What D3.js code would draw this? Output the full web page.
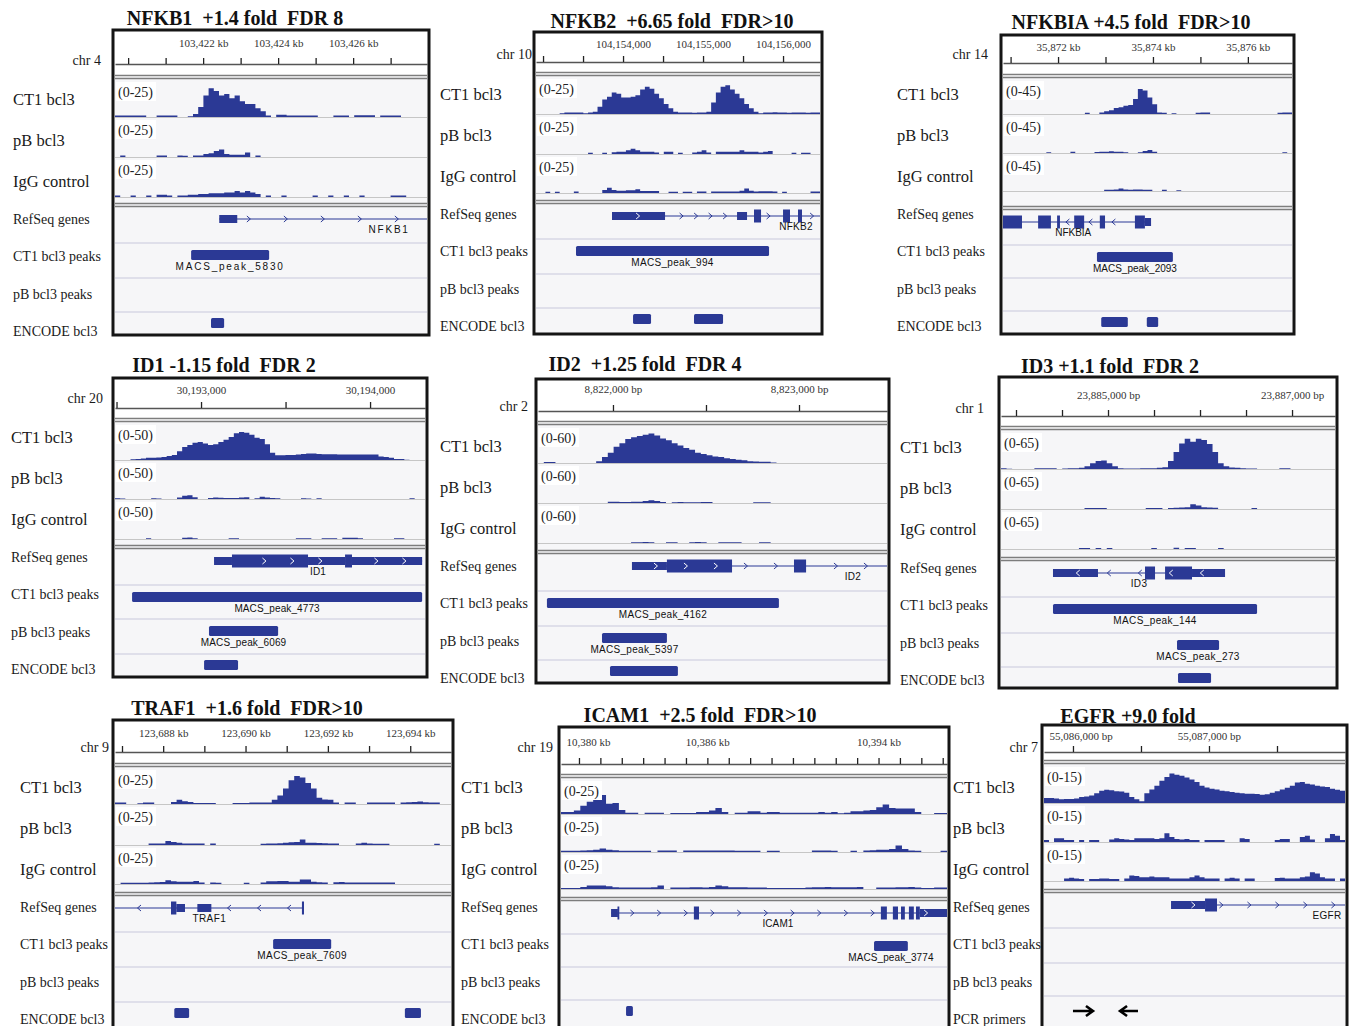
<!DOCTYPE html>
<html>
<head>
<meta charset="utf-8">
<script src="https://cdn.jsdelivr.net/npm/d3@7"></script>
<style>
  body { margin: 0; background: #fff; }
  svg { display: block; }
  .title { font: bold 20px "Liberation Serif", "Times New Roman", serif; fill: #111; white-space: pre; }
  .trackLabel { font: 16.5px "Liberation Serif", "Times New Roman", serif; fill: #1a1a1a; }
  .featLabel { font: 14px "Liberation Serif", "Times New Roman", serif; fill: #1a1a1a; }
  .chrLabel { font: 14px "Liberation Serif", "Times New Roman", serif; fill: #1a1a1a; }
  .tickLabel { font: 11px "Liberation Serif", "Times New Roman", serif; fill: #333; }
  .range { font: 14px "Liberation Serif", "Times New Roman", serif; fill: #222; }
  .feat { font: 10px "Liberation Sans", Arial, sans-serif; fill: #111; }
</style>
</head>
<body>
<svg id="fig" width="1354" height="1026"></svg>
<script>
const BLUE = '#2b3995'

// ---- NFKB1 (chr 4, kb) ----
const nfkb1Ticks = [103420, 103421, 103422, 103423, 103424, 103425, 103426, 103427]
const nfkb1Labels = [103422, 103424, 103426]
const nfkb1Ct1 = [
  1, 1, 1, 1, 1, 1, 0, 0, 1, 1,
  1, 1, 0, 0, 0.5, 2, 7, 15, 20, 18,
  15, 16, 13, 15, 11, 9, 9, 6, 4, 1,
  0, 1.5, 1.5, 1, 1, 1, 1, 1, 1, 0,
  0, 0, 1, 1, 1, 0, 1.2, 1.2, 1.2, 1.2,
  0, 1, 1, 1, 1, 0, 0, 0, 0, 0]
const nfkb1Pb = [
  0, 1, 0, 0, 0, 0, 0, 0, 1, 1,
  0, 0, 1, 0.8, 0, 1, 1, 2, 2.5, 4,
  5, 2, 1.5, 1.5, 1.5, 3, 0, 1, 0, 0,
  0, 0, 0, 0, 0, 0, 0, 0, 0, 0,
  0, 0, 0, 0, 0, 0, 0, 0, 0, 0,
  0, 0, 0, 0, 0, 0, 0, 0, 0, 0]
const nfkb1Igg = [
  1, 0, 0, 1, 0, 0, 1, 0, 1.5, 1.5,
  1, 0, 1, 1, 1.5, 1.5, 2, 2, 2.5, 2.5,
  2.5, 3, 3, 4, 3, 4, 3, 2, 0, 1,
  0, 0, 1, 0, 0, 0, 0, 0, 1, 0,
  0, 1, 0, 0, 1, 0, 0, 1, 0, 0,
  0, 0, 0, 1, 1, 1, 0, 0, 0, 0]
const nfkb1Gene = { name: 'NFKB1', strand: '+', start: 103422.43, end: 103427.97, labelAt: 103426.96 }
const nfkb1Exons = [[103422.43, 103422.91, 'utr']]
const nfkb1Ct1Peaks = [[103421.68, 103423.76, 'MACS_peak_5830']]
const nfkb1Encode = [[103422.21, 103422.56]]

// ---- NFKB2 (chr 10, bp) ----
const nfkb2Ticks = [104153000, 104153500, 104154000, 104154500, 104155000, 104155500, 104156000]
const nfkb2Labels = [104154000, 104155000, 104156000]
const nfkb2Ct1 = [
  0, 0, 0, 0, 0, 0.5, 1, 1, 1, 1,
  0.5, 1, 1.5, 5, 10, 12, 15, 14, 11.5, 11.5,
  12, 13, 17, 19, 17.5, 14, 11, 7, 4, 1.5,
  1, 1, 1, 0.8, 1, 1, 1.5, 8, 15, 19,
  20, 17, 14, 11, 7, 4, 1.5, 0.5, 1, 1,
  1.2, 1, 1, 0.8, 1, 1, 1, 0.8, 1, 1]
const nfkb2Pb = [
  0, 0, 0, 0, 0, 0, 0, 0, 0, 0,
  0, 0.8, 0, 0, 0.8, 0, 1.2, 1.5, 1.5, 2.5,
  3.5, 2.5, 1.5, 1.5, 1.5, 1, 0, 1.5, 1.5, 0,
  0.8, 0, 0, 1, 1.5, 2.5, 1, 0, 1.5, 1.5,
  1.5, 1.5, 1.5, 2.5, 1.5, 1.5, 1.5, 1, 1.5, 2,
  0, 0, 0, 0, 0.8, 0, 0.8, 0.8, 0, 0]
const nfkb2Igg = [
  0, 0, 0.8, 0, 0.8, 0, 0, 0, 1, 0,
  0, 0, 0, 0, 2, 3.5, 2, 1.5, 1.5, 1.8,
  1.8, 2.5, 1.3, 1.3, 1.3, 1.3, 0, 0, 0.8, 0.8,
  0, 0.8, 0.8, 0, 1, 1, 0, 1, 1, 1,
  1, 1, 1, 1.5, 3, 1.5, 1, 1.2, 1.2, 1.2,
  1, 0, 0.8, 0, 0, 0, 0, 0, 1, 1]
const nfkb2Gene = { name: 'NFKB2', strand: '+', start: 104153862, end: 104156462, labelAt: 104156162 }
const nfkb2Exons = [[104153862, 104154525, 'utr'], [104155425, 104155550, 'utr'], [104155637, 104155725, 'cds'],
  [104156000, 104156087, 'cds'], [104156187, 104156237, 'cds']]
const nfkb2Ct1Peaks = [[104153412, 104155825, 'MACS_peak_994']]
const nfkb2Encode = [[104154125, 104154350], [104154887, 104155250]]

// ---- NFKBIA (chr 14, kb) ----
const nfkbiaTicks = [35871, 35872, 35873, 35874, 35875, 35876]
const nfkbiaLabels = [35872, 35874, 35876]
const nfkbiaCt1 = [
  0, 0, 0, 0, 0, 0, 0, 0, 0, 0,
  0, 0, 0, 0, 0, 0, 0, 1.5, 0, 0,
  2, 3.5, 5, 8, 9, 11, 12, 20, 33, 31,
  22, 13, 2, 1.5, 0, 1, 0, 0, 0, 0,
  1.5, 2, 2, 0, 0, 0, 0, 0, 0, 0,
  0, 0, 0, 0, 0, 0, 0, 1.5, 2, 2]
const nfkbiaPb = [
  0, 0, 0, 0, 0, 0, 0, 0, 0, 1,
  0, 0, 0, 0, 1.5, 0, 0, 0, 0, 1.2,
  1.5, 1.5, 2, 1.5, 1.5, 1, 0, 0, 1, 2.5,
  3.5, 1.5, 0, 0, 0, 0, 0, 0, 0, 0,
  0, 0, 0, 0, 0, 0, 0, 0, 0, 0,
  0, 0, 0, 0, 0, 0, 0, 0, 1, 0]
const nfkbiaIgg = [
  0, 0, 0, 0, 0, 0, 0, 0, 0, 0,
  0, 0, 0, 0, 0, 0, 0, 0, 0, 0,
  0, 1.5, 1.5, 2, 3, 2, 1.5, 2, 2, 1.5,
  1.5, 0, 0, 1.5, 0, 0, 1, 0, 0, 0,
  0, 0, 0, 0, 0, 0, 0, 0, 0, 0,
  0, 0, 0, 0, 0, 0, 0, 0, 0, 0]
const nfkbiaGene = { name: 'NFKBIA', strand: '-', start: 35870.84, end: 35873.96, labelAt: 35872.32 }
const nfkbiaExons = [[35870.84, 35871.24, 'cds'], [35871.58, 35871.85, 'cds'], [35871.98, 35872.04, 'cds'],
  [35872.34, 35872.55, 'cds'], [35872.88, 35872.99, 'cds'], [35873.62, 35873.83, 'cds'], [35873.83, 35873.96, 'utr']]
const nfkbiaCt1Peaks = [[35872.82, 35874.42, 'MACS_peak_2093']]
const nfkbiaEncode = [[35872.91, 35873.47], [35873.87, 35874.11]]

// ---- ID1 (chr 20, bp) ----
const id1Ticks = [30192500, 30193000, 30193500, 30194000]
const id1Labels = [30193000, 30194000]
const id1Ct1 = [
  0, 0, 0, 1, 1.5, 2, 3, 3, 3.5, 4,
  5.5, 7, 12, 18, 21, 24, 25, 23, 21, 22,
  25, 28, 32, 37, 39, 38, 35, 31, 29, 22,
  10, 6.5, 6.5, 7, 7, 7.5, 8.5, 9, 9, 8.5,
  8, 8, 8, 7.5, 7.5, 7.5, 7.5, 7.5, 7.5, 7.5,
  7.5, 5, 4, 3, 1.5, 1.3, 0.5, 0, 0, 0]
const id1Pb = [
  1, 0.8, 0, 0, 0, 0, 0, 1, 0.8, 0,
  0, 0, 2, 4.5, 5, 2.5, 0, 0, 1.5, 2,
  1.8, 1.5, 1.5, 1.5, 2, 2.5, 0, 1, 3, 2,
  1.2, 1, 0, 0, 0, 0, 1, 0.8, 0, 1,
  0, 0, 0, 0, 0, 0, 0, 0, 0, 0,
  0, 0, 0, 0, 0, 0, 0, 1, 0, 0]
const id1Igg = [
  0, 0, 0, 0, 0, 0, 1, 0, 0, 0,
  0, 0, 0, 1.5, 2, 1, 0, 0, 0, 0,
  0, 0, 1, 1, 0, 0, 0, 0, 0, 0,
  0, 0, 0, 0, 0, 1, 1, 1, 0, 0,
  1, 1, 1, 0, 1.5, 1.5, 1.5, 1, 0, 0,
  0, 0, 0, 0, 1, 1, 0, 0, 0, 0]
const id1Gene = { name: 'ID1', strand: '+', start: 30193077, end: 30194308, labelAt: 30193692 }
const id1Exons = [[30193077, 30193183, 'utr'], [30193183, 30193633, 'cds'], [30193633, 30193852, 'utr'],
  [30193852, 30193893, 'cds'], [30193893, 30194308, 'utr']]
const id1Ct1Peaks = [[30192592, 30194308, 'MACS_peak_4773']]
const id1PbPeaks = [[30193047, 30193456, 'MACS_peak_6069']]
const id1Encode = [[30193018, 30193219]]

// ---- ID2 (chr 2, bp) ----
const id2Ticks = [8822000, 8822500, 8823000]
const id2Labels = [8822000, 8823000]
const id2Ct1 = [
  0, 1.5, 1.5, 0, 0, 0, 0, 0, 0, 0,
  3, 10, 17, 27, 33, 40, 43, 45, 47, 49,
  46, 41, 38, 33, 29, 25, 22, 17, 15, 13,
  11, 10, 8, 6.5, 5.5, 4.5, 3, 2.5, 2, 2,
  1, 0, 0, 0, 0, 0, 0, 0, 0, 0,
  0, 0, 0, 0, 0, 0, 0, 0, 0, 0]
const id2Pb = [
  0, 0, 0, 0, 0, 0, 0, 0, 0, 0,
  0, 0, 2, 1.8, 1.5, 1.5, 2, 2, 3, 4.5,
  3, 1.5, 0, 1, 1.5, 1, 1, 1.2, 1.5, 1.5,
  0, 0, 0, 0, 0, 0, 0, 1, 1, 1,
  0, 0, 0, 0, 0, 0, 0, 0, 0, 0,
  0, 0, 0, 0, 0, 0, 0, 0, 0, 0]
const id2Igg = [
  0, 0, 0, 0, 0, 0, 0, 0, 0, 0,
  0, 0, 0, 0, 0, 0, 1, 1, 1.5, 1,
  0, 0, 1, 1, 0, 0, 1.2, 1.5, 1.2, 0,
  0, 1, 1, 1.2, 1.2, 0, 0, 0, 1, 1,
  0, 0, 0, 0, 0, 0, 0, 0, 0, 0,
  0, 0, 0, 0, 0, 0, 0, 0, 0, 0]
const id2Gene = { name: 'ID2', strand: '+', start: 8822102, end: 8823473, labelAt: 8823290 }
const id2Exons = [[8822102, 8822290, 'utr'], [8822290, 8822640, 'cds'], [8822973, 8823038, 'cds']]
const id2Ct1Peaks = [[8821645, 8822892, 'MACS_peak_4162']]
const id2PbPeaks = [[8821941, 8822290, 'MACS_peak_5397']]
const id2Encode = [[8821984, 8822349]]

// ---- ID3 (chr 1, bp) ----
const id3Ticks = [23884000, 23884500, 23885000, 23885500, 23886000, 23886500, 23887000]
const id3Labels = [23885000, 23887000]
const id3Ct1 = [
  1.5, 0.5, 0, 0, 0, 0, 1.5, 1.5, 1.5, 1.5,
  0, 1, 1.5, 1.5, 2, 5, 10, 14, 15, 10,
  5, 1.5, 1, 1, 1, 1.5, 1.5, 1.5, 2, 3,
  14, 30, 45, 53, 48, 53, 51, 44, 30, 10,
  5, 2.5, 2, 1.5, 1, 1, 0, 0, 0, 0,
  1.5, 1.5, 0, 0, 0, 0, 0, 0, 0, 0]
const id3Pb = [
  0, 0, 0, 0, 0, 0, 0, 0, 0, 0,
  0, 0, 0, 0, 0, 1.5, 1.5, 1.8, 1.8, 0,
  0, 0, 0, 0, 0, 0, 1.5, 1.5, 1.5, 0,
  1.5, 2, 2.5, 3, 8, 6, 3, 2.5, 2, 0,
  0, 0, 0, 0, 0, 1.5, 0, 0, 0, 0,
  0, 0, 0, 0, 0, 0, 0, 0, 0, 0]
const id3Igg = [
  0, 0, 0, 0, 0, 0, 0, 0, 0, 0,
  0, 0, 0, 0, 1.5, 1.5, 0, 1.5, 0, 1.5,
  0, 0, 0, 0, 0, 0, 0, 1.5, 0, 0,
  0, 2, 0, 1.5, 1.5, 0, 0, 0, 0, 1.5,
  0, 0, 0, 0, 0, 0, 0, 0, 0, 0,
  0, 0, 0, 0, 0, 0, 0, 0, 0, 0]
const id3Gene = { name: 'ID3', strand: '-', start: 23884402, end: 23886272, labelAt: 23885337 }
const id3Exons = [[23884402, 23884891, 'utr'], [23885402, 23885511, 'cds'], [23885620, 23885913, 'cds'],
  [23885913, 23886272, 'utr']]
const id3Ct1Peaks = [[23884402, 23886620, 'MACS_peak_144']]
const id3PbPeaks = [[23885750, 23886207, 'MACS_peak_273']]
const id3Encode = [[23885761, 23886120]]

// ---- TRAF1 (chr 9, kb) ----
const traf1Ticks = [123687, 123688, 123689, 123690, 123691, 123692, 123693, 123694]
const traf1Labels = [123688, 123690, 123692, 123694]
const traf1Ct1 = [
  1, 1, 0, 0, 0.5, 1, 1, 0, 0, 0,
  1.5, 3, 2, 1.5, 0.8, 0.8, 0.8, 0.8, 0, 0,
  0, 0.8, 0.8, 0.8, 1, 1, 1, 1, 3, 6,
  11, 17, 20, 19, 15, 11, 4.5, 3.3, 3, 1,
  0, 1, 1, 0, 0, 1, 1, 1, 1, 1,
  0, 1, 1.2, 1.5, 1.8, 1.2, 1, 1, 0, 0]
const traf1Pb = [
  0, 0, 0, 0, 0, 0, 1, 1, 1, 2.5,
  2, 1.5, 1, 1, 1, 1, 0, 1, 0, 0,
  0, 0, 0, 0, 0, 0, 0.8, 1, 1, 1.2,
  1.5, 1.8, 2, 3.5, 1.5, 1.5, 1.3, 1.2, 1, 1,
  0, 0, 0, 1, 1.5, 1, 0.8, 0.8, 0.8, 0,
  0, 0, 0, 0, 0, 0, 0, 0.8, 0, 0]
const traf1Igg = [
  0, 0.8, 0.8, 0.8, 0.8, 0.8, 1, 1.2, 1.3, 2.5,
  1.8, 1.5, 1.5, 1.5, 2, 1, 0, 1, 0.8, 0,
  0, 0, 0, 0.8, 0, 0, 1, 1.8, 1.8, 2,
  2, 1.5, 1.5, 3, 3, 1.5, 1.2, 1, 0, 1.2,
  1.3, 1, 1, 1, 1, 1, 1, 1, 1, 1,
  0, 0, 0, 0, 0, 0, 0, 0, 0, 0]
const traf1Gene = { name: 'TRAF1', strand: '-', start: 123686.83, end: 123691.40, labelAt: 123689.12 }
const traf1Exons = [[123688.19, 123688.32, 'cds'], [123688.32, 123688.53, 'utr'], [123688.83, 123689.17, 'utr'],
  [123691.37, 123691.42, 'cds']]
const traf1Ct1Peaks = [[123690.67, 123692.08, 'MACS_peak_7609']]
const traf1Encode = [[123688.27, 123688.63], [123693.87, 123694.26]]

// ---- ICAM1 (chr 19, kb) ----
const icam1Ticks = [10380, 10381, 10382, 10383, 10384, 10385, 10386, 10387, 10388, 10389,
  10390, 10391, 10392, 10393, 10394, 10395, 10396, 10397]
const icam1Labels = [10380, 10386, 10394]
const icam1Ct1 = [
  1.5, 1.5, 2.5, 6, 9, 12, 14, 7.5, 8, 3,
  1, 1, 0, 1, 1, 1, 0, 0.8, 0.8, 0.8,
  0.8, 1.5, 1.5, 2.5, 4.5, 1.5, 0, 1, 1, 2,
  2, 1, 1.5, 1.5, 1, 1, 1, 1, 1, 1,
  1.5, 1, 1.5, 0.5, 1, 2, 2, 2.5, 3, 5,
  7, 4.5, 4, 4, 4, 1.5, 0, 0, 0.8, 0.8]
const icam1Pb = [
  0.8, 0.8, 0.8, 1, 1.2, 1.5, 2.5, 1.5, 1.2, 0.8,
  0.8, 0.8, 0.8, 0.8, 0, 1, 1, 1, 0, 1,
  1, 1, 1, 1, 1, 1, 1, 0.8, 0.8, 0.8,
  0.8, 0, 0.8, 0.8, 0, 0, 0, 0, 0, 1,
  1, 1, 0.8, 0, 0, 0.8, 0, 1, 1.2, 1.5,
  1.5, 2, 4.5, 2, 1, 0.8, 0, 0, 0, 0.8]
const icam1Igg = [
  0.8, 0.8, 0.8, 1.5, 2.5, 2.5, 2.5, 2, 1.2, 1,
  1, 1, 1, 1, 1.2, 2.5, 0, 1, 1, 1,
  1.3, 1.3, 1, 1.5, 2.5, 2, 1.2, 1.2, 1.2, 1,
  1, 1, 0.8, 0.8, 0.8, 0.8, 0.8, 0.8, 1, 1.2,
  1.2, 1.5, 1.2, 1.2, 1.2, 1.2, 1.5, 0, 0, 1,
  1, 1, 1.3, 1.3, 1.5, 1, 0.8, 0.8, 1, 1]
const icam1Gene = { name: 'ICAM1', strand: '+', start: 10381.50, end: 10397.20, labelAt: 10389.30 }
const icam1Exons = [[10381.50, 10381.82, 'utr'], [10381.80, 10381.88, 'cds'], [10385.37, 10385.61, 'cds'],
  [10394.11, 10394.39, 'cds'], [10394.67, 10394.91, 'cds'], [10395.05, 10395.23, 'cds'],
  [10395.42, 10395.65, 'cds'], [10395.75, 10395.93, 'cds'], [10395.93, 10397.20, 'utr']]
const icam1Ct1Peaks = [[10393.79, 10395.37, 'MACS_peak_3774']]
const icam1Encode = [[10382.20, 10382.52]]

// ---- EGFR (chr 7, bp) ----
const egfrTicks = [55086000, 55086500, 55087000, 55087500]
const egfrLabels = [55086000, 55087000]
const egfrCt1 = [
  2, 2, 1.8, 1.5, 1.6, 1.6, 1.8, 2.4, 2.6, 3,
  4, 5, 5.4, 5.2, 4.8, 4.7, 4.2, 2.4, 1.5, 0.7,
  4, 5.5, 7, 9, 10.5, 12, 11.5, 11, 10.3, 9.5,
  8.5, 7, 6.3, 5.8, 5.5, 5, 4.8, 4.5, 4.2, 4,
  3.8, 3.7, 3.6, 3.3, 3.5, 4.2, 4.8, 5.5, 6.2, 7,
  8.3, 8.5, 7.8, 7.5, 7, 6.7, 6.5, 5.8, 5.4, 5]
const egfrPb = [
  0.8, 0, 1.5, 1.5, 0.8, 0.8, 0, 0.8, 0, 0.8,
  0.8, 0, 0, 1, 1.5, 1.2, 1, 0.8, 1.5, 1.5,
  1.5, 1.5, 1.2, 1.5, 3.5, 2, 1.2, 1, 1.2, 0.8,
  0.8, 0, 0.8, 0.8, 0.8, 0.8, 0, 0, 0, 1.5,
  1.2, 0, 0, 0, 0, 0, 0.8, 1.2, 1.2, 0,
  0, 2, 2.5, 1, 0, 0, 1.5, 3.2, 2.5, 0.8]
const egfrIgg = [
  0, 0, 0, 0, 1, 1.3, 1, 0.8, 0, 0.8,
  0.8, 1, 1, 0.8, 0.8, 0, 1, 2.2, 2, 1.5,
  1.5, 1.8, 1.5, 1.5, 1.5, 1, 1, 1, 1, 1.5,
  2.2, 1.5, 1, 1, 1, 0, 1, 1.3, 1, 0,
  1, 1, 0, 0, 0, 0, 1.2, 1.3, 1, 1,
  1, 1.5, 1.8, 3.5, 3, 1.5, 1, 1, 0, 1]
const egfrGene = { name: 'EGFR', strand: '+', start: 55086721, end: 55088000, labelAt: 55087868 }
const egfrExons = [[55086721, 55086971, 'utr'], [55086971, 55087059, 'cds']]
const egfrPrimers = [[55086000, 55086147, '+'], [55086346, 55086478, '-']]

// panel layout (pixel geometry), built from the arrays above
const panels = [
  { title: 'NFKB1  +1.4 fold  FDR 8', titleX: 235, titleY: 25, chr: 'chr 4', chrX: 101, chrY: 60,
    labelX: 13, covLabelY: 99, featLabelY: 219, frame: [113, 30, 429, 335],
    rulerY: 64, tickLabelY: 47, dbl1: 77, base: [117, 157, 197], dbl2: 205, seps: [243, 278, 312],
    domain: [103419.65, 103427.97], ticks: nfkb1Ticks, tickLabels: nfkb1Labels, unit: ' kb', max: 25,
    cov: [nfkb1Ct1, nfkb1Pb, nfkb1Igg], gene: nfkb1Gene, exons: nfkb1Exons,
    peaks: [nfkb1Ct1Peaks, [], nfkb1Encode], chev: 37, spacing: 1.8 },
  { title: 'NFKB2  +6.65 fold  FDR>10', titleX: 672, titleY: 28, chr: 'chr 10', chrX: 532, chrY: 54,
    labelX: 440, covLabelY: 94, featLabelY: 214, frame: [534, 32, 822, 334],
    rulerY: 62, tickLabelY: 48, dbl1: 74, base: [114, 154, 193], dbl2: 202, seps: [239, 274, 308],
    domain: [104152912, 104156462], ticks: nfkb2Ticks, tickLabels: nfkb2Labels, unit: '', max: 25,
    cov: [nfkb2Ct1, nfkb2Pb, nfkb2Igg], gene: nfkb2Gene, exons: nfkb2Exons,
    peaks: [nfkb2Ct1Peaks, [], nfkb2Encode], chev: 14.5, spacing: 0.3 },
  { title: 'NFKBIA +4.5 fold  FDR>10', titleX: 1131, titleY: 29, chr: 'chr 14', chrX: 988, chrY: 54,
    labelX: 897, covLabelY: 94, featLabelY: 214, frame: [1001, 35, 1294, 334],
    rulerY: 63, tickLabelY: 51, dbl1: 76, base: [114, 153, 191], dbl2: 208, seps: [245, 278, 311],
    domain: [35870.84, 35876.93], ticks: nfkbiaTicks, tickLabels: nfkbiaLabels, unit: ' kb', max: 45,
    cov: [nfkbiaCt1, nfkbiaPb, nfkbiaIgg], gene: nfkbiaGene, exons: nfkbiaExons,
    peaks: [nfkbiaCt1Peaks, [], nfkbiaEncode], chev: 23, spacing: 0 },
  { title: 'ID1 -1.15 fold  FDR 2', titleX: 224, titleY: 372, chr: 'chr 20', chrX: 103, chrY: 398,
    labelX: 11, covLabelY: 437, featLabelY: 557, frame: [113, 378, 427, 677],
    rulerY: 408, tickLabelY: 394, dbl1: 420, base: [460, 499, 539], dbl2: 547, seps: [585, 619, 654],
    domain: [30192491, 30194325], ticks: id1Ticks, tickLabels: id1Labels, unit: '', max: 50,
    cov: [id1Ct1, id1Pb, id1Igg], gene: id1Gene, exons: id1Exons,
    peaks: [id1Ct1Peaks, id1PbPeaks, id1Encode], chev: 28, spacing: 0.1 },
  { title: 'ID2  +1.25 fold  FDR 4', titleX: 645, titleY: 371, chr: 'chr 2', chrX: 528, chrY: 406,
    labelX: 440, covLabelY: 446, featLabelY: 566, frame: [536, 379, 889, 683],
    rulerY: 411, tickLabelY: 393, dbl1: 423, base: [463, 503, 543], dbl2: 552, seps: [591, 626, 660],
    domain: [8821597, 8823473], ticks: id2Ticks, tickLabels: id2Labels, unit: ' bp', max: 60,
    cov: [id2Ct1, id2Pb, id2Igg], gene: id2Gene, exons: id2Exons,
    peaks: [id2Ct1Peaks, id2PbPeaks, id2Encode], chev: 30, spacing: 0.3 },
  { title: 'ID3 +1.1 fold  FDR 2', titleX: 1110, titleY: 373, chr: 'chr 1', chrX: 984, chrY: 408,
    labelX: 900, covLabelY: 447, featLabelY: 568, frame: [999, 377, 1337, 688],
    rulerY: 416, tickLabelY: 399, dbl1: 428, base: [469, 509, 549], dbl2: 559, seps: [597, 633, 667],
    domain: [23883837, 23887467], ticks: id3Ticks, tickLabels: id3Labels, unit: ' bp', max: 65,
    cov: [id3Ct1, id3Pb, id3Igg], gene: id3Gene, exons: id3Exons,
    peaks: [id3Ct1Peaks, id3PbPeaks, id3Encode], chev: 31, spacing: 0.4 },
  { title: 'TRAF1  +1.6 fold  FDR>10', titleX: 247, titleY: 715, chr: 'chr 9', chrX: 109, chrY: 747,
    labelX: 20, covLabelY: 787, featLabelY: 907, frame: [113, 720, 453, 1040],
    rulerY: 752, tickLabelY: 737, dbl1: 765, base: [804, 845, 884], dbl2: 894, seps: [932, 967, 1002],
    domain: [123686.83, 123694.99], ticks: traf1Ticks, tickLabels: traf1Labels, unit: ' kb', max: 25,
    cov: [traf1Ct1, traf1Pb, traf1Igg], gene: traf1Gene, exons: traf1Exons,
    peaks: [traf1Ct1Peaks, [], traf1Encode], chev: 30, spacing: 0.4 },
  { title: 'ICAM1  +2.5 fold  FDR>10', titleX: 700, titleY: 722, chr: 'chr 19', chrX: 553, chrY: 747,
    labelX: 461, covLabelY: 787, featLabelY: 907, frame: [559, 727, 949, 1040],
    rulerY: 764, tickLabelY: 746, dbl1: 776, base: [814, 852, 889], dbl2: 899, seps: [934, 967, 1000],
    domain: [10379.16, 10397.20], ticks: icam1Ticks, tickLabels: icam1Labels, unit: ' kb', max: 25,
    cov: [icam1Ct1, icam1Pb, icam1Igg], gene: icam1Gene, exons: icam1Exons,
    peaks: [icam1Ct1Peaks, [], icam1Encode], chev: 26.7, spacing: 0.1 },
  { title: 'EGFR +9.0 fold', titleX: 1128, titleY: 723, chr: 'chr 7', chrX: 1038, chrY: 747,
    labelX: 953, covLabelY: 787, featLabelY: 907, frame: [1042, 725, 1347, 1040],
    rulerY: 752, tickLabelY: 740, dbl1: 762, base: [803, 842, 881], dbl2: 891, seps: [928, 963, 996],
    domain: [55085787, 55088000], ticks: egfrTicks, tickLabels: egfrLabels, unit: ' bp', max: 15,
    cov: [egfrCt1, egfrPb, egfrIgg], gene: egfrGene, exons: egfrExons,
    peaks: [[], [], []], primers: egfrPrimers, lastLabel: 'PCR primers', chev: 28, spacing: 0.3 }
]

const covNames = ['CT1 bcl3', 'pB bcl3', 'IgG control']
const featNames = ['RefSeq genes', 'CT1 bcl3 peaks', 'pB bcl3 peaks', 'ENCODE bcl3']

const svg = d3.select('#fig')
const fmt = d3.format(',')

function chevronPath (cx, cy, strand) {
  const d = strand === '+' ? 1 : -1
  return `M${cx - 2 * d},${cy - 3} L${cx + 1.5 * d},${cy} L${cx - 2 * d},${cy + 3}`
}

function drawPanel (p) {
  const [x0, y0, x1, y1] = p.frame
  const ix0 = x0 + 2
  const ix1 = x1 - 2
  const x = d3.scaleLinear().domain(p.domain).range([ix0, ix1])
  const g = svg.append('g')

  // title
  svg.append('text').attr('class', 'title')
    .attr('x', p.titleX).attr('y', p.titleY)
    .attr('text-anchor', 'middle')
    .text(p.title)

  // left-hand track names
  svg.append('text').attr('class', 'chrLabel')
    .attr('x', p.chrX).attr('y', p.chrY).attr('dy', '0.35em')
    .attr('text-anchor', 'end').text(p.chr)
  covNames.forEach((n, i) => {
    svg.append('text').attr('class', 'trackLabel')
      .attr('x', p.labelX).attr('y', p.covLabelY + i * 41).attr('dy', '0.35em').text(n)
  })
  featNames.forEach((n, i) => {
    const t = (i === 3 && p.lastLabel) ? p.lastLabel : n
    svg.append('text').attr('class', 'featLabel')
      .attr('x', p.labelX).attr('y', p.featLabelY + i * 37.5).attr('dy', '0.35em').text(t)
  })

  // backgrounds
  g.append('rect').attr('x', ix0).attr('y', y0).attr('width', ix1 - ix0)
    .attr('height', p.dbl1 - y0).attr('fill', '#fff')
  g.append('rect').attr('x', ix0).attr('y', p.dbl1).attr('width', ix1 - ix0)
    .attr('height', y1 - p.dbl1).attr('fill', '#f6f6f8')

  // ruler
  const ruler = g.append('g').attr('transform', `translate(0,${p.rulerY})`)
    .call(d3.axisTop(x).tickValues(p.ticks).tickSize(6).tickSizeOuter(0).tickFormat(''))
  ruler.select('.domain').attr('stroke', '#555').attr('stroke-width', 1.6)
  ruler.selectAll('.tick line').attr('stroke', '#222').attr('stroke-width', 1.3)

  const lab = g.append('g').attr('transform', `translate(0,${p.tickLabelY})`)
    .call(d3.axisTop(x).tickValues(p.tickLabels).tickSize(0).tickFormat(d => fmt(d) + p.unit))
  lab.select('.domain').remove()
  lab.selectAll('.tick').each(function (d) {
    const t = d3.select(this).select('text').attr('class', 'tickLabel').attr('y', 0).attr('dy', 0)
    const w = t.node().getComputedTextLength()
    const cx = x(d)
    let dx = 0
    if (cx - w / 2 < ix0 + 5) dx = ix0 + 5 - (cx - w / 2)
    if (cx + w / 2 > ix1 - 3) dx = ix1 - 3 - (cx + w / 2)
    t.attr('x', dx)
  })

  // double separator lines
  ;[p.dbl1, p.dbl2].forEach(yy => {
    ;[-1.5, 1.5].forEach(o => {
      g.append('line').attr('x1', ix0).attr('x2', ix1).attr('y1', yy + o).attr('y2', yy + o)
        .attr('stroke', '#7d7d7d').attr('stroke-width', 1.6)
    })
  })

  // coverage tracks
  p.cov.forEach((vals, j) => {
    const base = p.base[j]
    const top = j === 0 ? p.dbl1 + 2 : p.base[j - 1]
    const y = d3.scaleLinear().domain([0, p.max]).range([base, top + 2])
    const step = (p.domain[1] - p.domain[0]) / vals.length
    const pts = []
    vals.forEach((v, i) => {
      const s = p.domain[0] + i * step
      pts.push({ g: s, v: v }, { g: s + step, v: v })
    })
    g.append('line').attr('x1', ix0).attr('x2', ix1).attr('y1', base + 0.5).attr('y2', base + 0.5)
      .attr('stroke', '#c6c6c6').attr('stroke-width', 1.2)
    const area = d3.area().defined(d => d.v > 0)
      .x(d => x(d.g)).y0(base).y1(d => y(d.v))
    g.append('path').attr('d', area(pts)).attr('fill', BLUE)

    const rt = g.append('text').attr('class', 'range')
      .attr('x', ix0 + 3).attr('y', top + 18).text(`(0-${p.max})`)
    const w = rt.node().getComputedTextLength()
    g.insert('rect', () => rt.node())
      .attr('x', ix0 + 1).attr('y', top + 3).attr('width', w + 5).attr('height', 19).attr('fill', '#fff')
  })

  // feature separators
  p.seps.forEach(yy => {
    g.append('line').attr('x1', ix0).attr('x2', ix1).attr('y1', yy).attr('y2', yy)
      .attr('stroke', '#c8c8dc').attr('stroke-width', 1.2)
  })

  // gene model
  const gene = p.gene
  const gy = p.dbl2 + 14
  const gx0 = Math.max(ix0, x(gene.start))
  const gx1 = Math.min(ix1, x(gene.end))
  g.append('line').attr('x1', gx0).attr('x2', gx1).attr('y1', gy).attr('y2', gy)
    .attr('stroke', BLUE).attr('stroke-width', 1.2)
  g.selectAll(null).data(p.exons).join('rect')
    .attr('x', d => x(d[0]))
    .attr('width', d => Math.max(1.8, x(d[1]) - x(d[0])))
    .attr('y', d => gy - (d[2] === 'cds' ? 6.5 : 4))
    .attr('height', d => d[2] === 'cds' ? 13 : 8)
    .attr('fill', BLUE)
  let whiteUsed = 0
  for (let cx = gx0 + p.chev * 0.8; cx < gx1 - 3; cx += p.chev) {
    const ex = p.exons.find(d => cx >= x(d[0]) - 3 && cx <= x(d[1]) + 3)
    let color = BLUE
    if (ex) {
      if (x(ex[1]) - x(ex[0]) < 14 || cx < x(ex[0]) + 5 || cx > x(ex[1]) - 5) continue
      // inside an exon only every second arrow is kept when they are tightly packed
      whiteUsed++
      if (p.chev < 20 && whiteUsed % 3 !== 2) continue
      color = '#fff'
    }
    g.append('path').attr('d', chevronPath(cx, gy, gene.strand))
      .attr('fill', 'none').attr('stroke', color).attr('stroke-width', 1)
  }
  g.append('text').attr('class', 'feat')
    .attr('x', x(gene.labelAt)).attr('y', gy + 14)
    .attr('text-anchor', 'middle').style('letter-spacing', p.spacing + 'px')
    .text(gene.name)

  // peak tracks
  p.peaks.forEach((list, k) => {
    const cy = k < 2 ? p.seps[k] + 12 : p.seps[2] + 11
    g.selectAll(null).data(list).join('rect')
      .attr('x', d => x(d[0])).attr('width', d => x(d[1]) - x(d[0]))
      .attr('y', cy - 5).attr('height', 10).attr('rx', 1.5)
      .attr('fill', BLUE)
    g.selectAll(null).data(list.filter(d => d[2])).join('text')
      .attr('class', 'feat')
      .attr('x', d => (x(d[0]) + x(d[1])) / 2).attr('y', cy + 15)
      .attr('text-anchor', 'middle').style('letter-spacing', p.spacing + 'px')
      .text(d => d[2])
  })

  // PCR primers
  if (p.primers) {
    const py = p.seps[2] + 15
    p.primers.forEach(d => {
      const a = x(d[0])
      const b = x(d[1])
      const tip = d[2] === '+' ? b : a
      const s = d[2] === '+' ? -1 : 1
      g.append('path')
        .attr('d', `M${a},${py} L${b},${py} M${tip + s * 7},${py - 5} L${tip},${py} L${tip + s * 7},${py + 5}`)
        .attr('fill', 'none').attr('stroke', '#000').attr('stroke-width', 2.6)
    })
  }

  // frame
  g.append('rect').attr('x', x0).attr('y', y0).attr('width', x1 - x0).attr('height', y1 - y0)
    .attr('fill', 'none').attr('stroke', '#151515').attr('stroke-width', 3)
}

panels.forEach(drawPanel)
</script>
</body>
</html>
